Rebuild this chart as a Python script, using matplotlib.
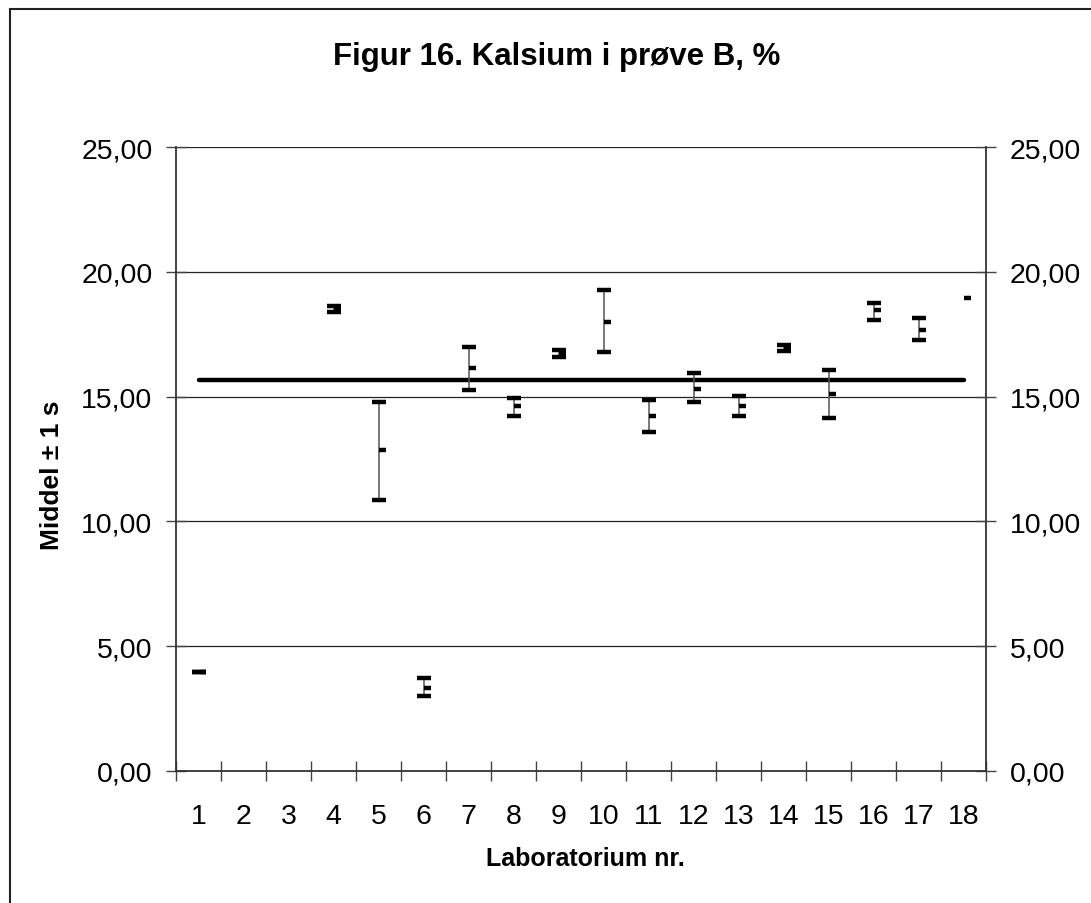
import numpy as np
import matplotlib
matplotlib.use('Agg')
import matplotlib.pyplot as plt
from matplotlib.path import Path
from matplotlib.patches import Rectangle

plt.rcParams['font.family'] = ['Liberation Sans', 'DejaVu Sans']

# Laboratory results, mean +/- 1 s (nan = not reported)
labs = np.arange(1, 19)
high = [3.96, np.nan, np.nan, 18.62, 14.77, 3.74, 17.00, 14.95, 16.85,
        19.26, 14.85, 15.96, 15.01, 17.05, 16.05, 18.77, 18.13, np.nan]
mean = [3.96, np.nan, np.nan, 18.50, 12.85, 3.31, 16.13, 14.61, 16.72,
        17.97, 14.21, 15.32, 14.61, 16.93, 15.09, 18.45, 17.65, 18.94]
low = [3.96, np.nan, np.nan, 18.38, 10.85, 2.99, 15.25, 14.21, 16.58,
       16.77, 13.57, 14.77, 14.21, 16.82, 14.13, 18.05, 17.25, np.nan]
ref_value = 15.68

fig = plt.figure(figsize=(10.91, 9.04), dpi=100)
ax = fig.add_axes([176 / 1091, 132 / 904, 810 / 1091, 624 / 904])

# frame round the chart (only left and top edge inside the image)
fig.patches.append(Rectangle((9.5 / 1091, -0.05), 1.1, 1 - 10 / 904 + 0.05,
                             transform=fig.transFigure, fill=False,
                             edgecolor='#222222', linewidth=1.5))

# gridlines
for g in [5, 10, 15, 20, 25]:
    ax.axhline(g, color='#222222', linewidth=0.9, zorder=1)

# reference line
ax.plot(labs, np.full(len(labs), ref_value), color='black', linewidth=3.2,
        solid_capstyle='round', zorder=2)

# high-low lines
ax.vlines(labs, low, high, color='#555555', linewidth=1.1, zorder=3)
# caps
ax.plot(labs, high, linestyle='none', marker='_', markersize=10,
        markeredgewidth=3.2, color='black', zorder=4)
ax.plot(labs, low, linestyle='none', marker='_', markersize=10,
        markeredgewidth=3.2, color='black', zorder=4)
# mean marker, drawn to the right of the line
right_dash = Path([(0, 0), (1, 0)], [Path.MOVETO, Path.LINETO])
ax.plot(labs, mean, linestyle='none', marker=right_dash, markersize=10,
        markeredgewidth=3.2, color='black', zorder=4)

ax.set_xlim(0.5, 18.5)
ax.set_ylim(0, 25)

ax.set_xticks(np.arange(0.5, 19, 1))
ax.set_xticklabels([])
ax.set_xticks(labs, minor=True)
ax.set_xticklabels([str(i) for i in labs], minor=True)
ax.tick_params(axis='x', which='major', direction='inout', length=14,
               width=1, color='#444444')
ax.tick_params(axis='x', which='minor', length=0, pad=23, labelsize=20.5)

yt = [0, 5, 10, 15, 20, 25]
ax.set_yticks(yt)
ax.set_yticklabels([f'{v:.2f}'.replace('.', ',') for v in yt])
ax.tick_params(axis='y', direction='inout', length=14, width=1,
               color='#444444', labelsize=20.5, pad=10,
               right=True, labelright=True)

for side in ['left', 'right', 'bottom']:
    ax.spines[side].set_color('#333333')
    ax.spines[side].set_linewidth(1.3)
ax.spines['top'].set_visible(False)

fig.text(556.7 / 1091, 1 - 57 / 904, 'Figur 16. Kalsium i prøve B, %',
         ha='center', va='center', fontsize=22.5, fontweight='bold')
fig.text(51.7 / 1091, 1 - 475 / 904, 'Middel ± 1 s', rotation=90,
         ha='center', va='center', fontsize=19, fontweight='bold')
fig.text(585 / 1091, 1 - 859 / 904, 'Laboratorium nr.',
         ha='center', va='center', fontsize=18, fontweight='bold')

fig.savefig('out.png', dpi=100)
